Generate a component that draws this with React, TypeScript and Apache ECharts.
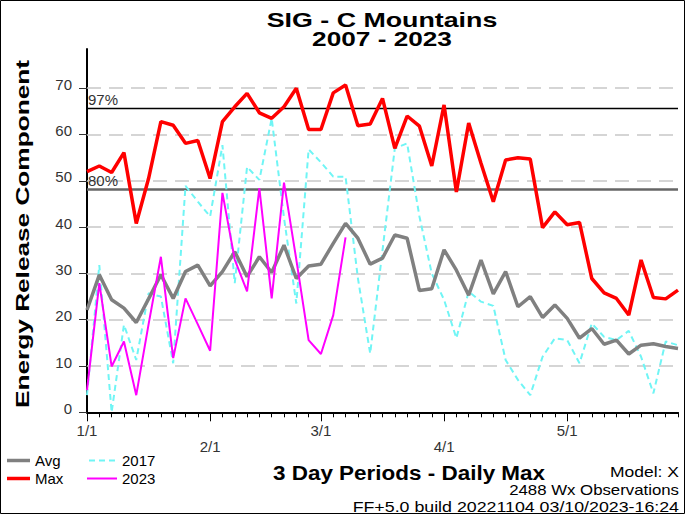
import React, { useEffect, useRef } from "react";
import * as echarts from "echarts";

const FONT = "Arial, 'Liberation Sans', sans-serif";

// 3-day period index 0..48 (1/1 .. end of May)
const monthIdx = [0, 10, 19, 29, 39];
const monthLabels = ["1/1", "2/1", "3/1", "4/1", "5/1"];
const yTicks = [0, 10, 20, 30, 40, 50, 60, 70];

const avgValues = [
  22.1, 29.7, 24.3, 22.5, 19.4, 24.5, 29.7, 24.6, 30.4, 31.8,
  27.3, 30.4, 34.7, 29.3, 33.6, 30.2, 36.1, 28.9, 31.6, 32.0,
  36.5, 40.8, 37.6, 32.0, 33.3, 38.3, 37.6, 26.3, 26.7, 35.1,
  30.7, 25.3, 32.9, 25.6, 30.4, 22.8, 25.0, 20.5, 23.2, 20.3,
  16.0, 18.1, 14.7, 15.6, 12.6, 14.5, 14.8, 14.2, 13.8,
];
const maxValues = [
  52.0, 53.2, 51.8, 56.1, 40.8, 50.5, 62.8, 62.0, 58.1, 58.7,
  50.5, 62.8, 66.0, 68.9, 64.7, 63.5, 66.0, 70.0, 61.1, 61.1,
  69.0, 70.7, 61.9, 62.3, 67.8, 57.0, 64.0, 61.8, 53.2, 66.4,
  47.6, 62.5, 53.8, 45.5, 54.5, 55.0, 54.7, 39.9, 43.3, 40.5,
  41.0, 28.9, 25.8, 24.6, 21.0, 32.9, 24.8, 24.5, 26.4,
];
const values2017 = [
  3.7, 31.8, 0, 18.9, 11.3, 25.7, 25.0, 10.6, 48.9, 45.5,
  42.3, 57.7, 27.9, 53.0, 50.2, 63.5, 42.0, 23.5, 56.8, 54.0,
  50.9, 50.9, 29.0, 12.7, 35.0, 57.0, 58.1, 42.3, 30.0, 24.3,
  16.0, 26.1, 23.9, 23.0, 11.3, 7.0, 3.7, 12.0, 16.0, 15.6,
  10.6, 19.2, 16.3, 15.6, 17.6, 12.0, 4.1, 15.3, 14.5,
];
const values2023 = [
  4.8, 27.9, 9.9, 15.3, 3.7, 19.0, 33.6, 11.7, 24.6, 19.0,
  13.3, 47.4, 33.0, 26.1, 48.4, 24.6, 49.6, 33.0, 15.6, 12.6,
  21.0, 37.8,
];
const percentiles = [
  { name: "97%", value: 65.7 },
  { name: "80%", value: 48.2 },
];

const toPairs = (arr: number[]) => arr.map((v, i) => [i, v]);

const DASH_ICON = "path://M0 0H6V2H0Z M10 0H16V2H10Z M20 0H26V2H20Z";

export default function App() {
  const ref = useRef<HTMLDivElement>(null);
  useEffect(() => {
    const chart = echarts.init(ref.current!, null, { renderer: "svg" });
    const textBase = { fill: "#000", align: "center", verticalAlign: "middle", textAlign: "center", textVerticalAlign: "middle" };
    const textRight = { fill: "#000", align: "right", verticalAlign: "middle", textAlign: "right", textVerticalAlign: "middle" };
    const option: any = {
      animation: false,
      backgroundColor: "#fff",
      grid: { left: 87, right: 7, top: 48.9, bottom: 103.7 },
      xAxis: [
        {
          type: "value",
          min: 0,
          max: 48,
          interval: 1,
          axisLine: { show: true, onZero: false, lineStyle: { color: "#000", width: 2 } },
          axisTick: { show: true, length: 5, lineStyle: { color: "#000", width: 1 } },
          axisLabel: { show: false },
          splitLine: { show: false },
        },
        {
          type: "value",
          min: 0,
          max: 48,
          position: "bottom",
          axisLine: { show: false },
          axisTick: { show: true, customValues: monthIdx, length: 9, lineStyle: { color: "#000", width: 1 } },
          axisLabel: {
            show: true,
            customValues: monthIdx,
            margin: 10,
            fontSize: 15,
            lineHeight: 16,
            fontFamily: FONT,
            color: "#333",
            formatter: (v: number) => {
              const k = monthIdx.indexOf(Math.round(v));
              if (k < 0) return "";
              return k % 2 === 1 ? "\n" + monthLabels[k] : monthLabels[k];
            },
          },
          splitLine: { show: false },
        },
      ],
      yAxis: {
        type: "value",
        min: 0,
        max: 78.5,
        interval: 10,
        axisLine: { show: true, onZero: false, lineStyle: { color: "#000", width: 2 } },
        axisTick: { show: true, customValues: yTicks, length: 8, lineStyle: { color: "#333", width: 1 } },
        axisLabel: {
          customValues: yTicks,
          margin: 15,
          fontSize: 15,
          fontFamily: FONT,
          color: "#333",
          verticalAlign: "bottom",
          lineHeight: 8,
        },
        splitLine: { show: false },
      },
      legend: [
        {
          data: [
            { name: "Avg", icon: "rect" },
            { name: "Max", icon: "rect" },
          ],
          orient: "vertical",
          left: 7,
          top: 453,
          padding: 0,
          itemWidth: 23,
          itemHeight: 3.5,
          itemGap: 3,
          selectedMode: false,
          textStyle: { fontSize: 15, color: "#000", fontFamily: FONT },
        },
        {
          data: [
            { name: "2017", icon: DASH_ICON },
            { name: "2023", icon: "rect" },
          ],
          orient: "vertical",
          left: 87,
          top: 453,
          padding: 0,
          itemWidth: 30,
          itemHeight: 2,
          itemGap: 3,
          selectedMode: false,
          textStyle: { fontSize: 15, color: "#000", fontFamily: FONT },
        },
      ],
      series: [
        {
          name: "2017",
          type: "line",
          data: toPairs(values2017),
          symbol: "none",
          z: 2,
          itemStyle: { color: "#70f5f5" },
          lineStyle: { color: "#70f5f5", width: 2, type: [6, 4] },
          markLine: {
            silent: true,
            z: 1,
            symbol: ["none", "none"],
            emphasis: { disabled: true },
            label: { show: false },
            lineStyle: { color: "#c8c8c8", width: 1.5, type: [14, 8] },
            data: yTicks.filter((v) => v > 0).map((v) => ({ yAxis: v })),
          },
        },
        {
          name: "Avg",
          type: "line",
          data: toPairs(avgValues),
          symbol: "none",
          z: 3,
          itemStyle: { color: "#808080" },
          lineStyle: { color: "#808080", width: 3.5 },
          markLine: {
            silent: true,
            z: 1,
            symbol: ["none", "none"],
            emphasis: { disabled: true },
            data: percentiles.map((p, k) => ({
              yAxis: p.value,
              name: p.name,
              lineStyle: k === 0 ? { color: "#000", width: 1.3, type: "solid" } : { color: "#666", width: 2.5, type: "solid" },
              label: {
                show: true,
                position: "insideStartTop",
                formatter: "{b}",
                color: "#333",
                fontSize: 15,
                fontFamily: FONT,
                distance: [1, 1],
              },
            })),
          },
        },
        {
          name: "2023",
          type: "line",
          data: toPairs(values2023),
          symbol: "none",
          z: 4,
          itemStyle: { color: "#ff00ff" },
          lineStyle: { color: "#ff00ff", width: 2 },
        },
        {
          name: "Max",
          type: "line",
          data: toPairs(maxValues),
          symbol: "none",
          z: 5,
          itemStyle: { color: "#ff0000" },
          lineStyle: { color: "#ff0000", width: 3.5 },
        },
      ],
      graphic: [
        {
          type: "rect",
          shape: { x: 0.5, y: 0.5, width: 684, height: 513 },
          style: { fill: "none", stroke: "#000", lineWidth: 1 },
          silent: true,
        },
        {
          type: "text",
          x: 382,
          y: 20.5,
          scaleX: 1.34,
          style: { ...textBase, text: "SIG - C Mountains", font: `bold 20px ${FONT}` },
        },
        {
          type: "text",
          x: 382,
          y: 39.5,
          scaleX: 1.31,
          style: { ...textBase, text: "2007 - 2023", font: `bold 20px ${FONT}` },
        },
        {
          type: "text",
          x: 22,
          y: 234,
          rotation: Math.PI / 2,
          scaleX: 1.38,
          style: { ...textBase, text: "Energy Release Component", font: `bold 19px ${FONT}` },
        },
        {
          type: "text",
          x: 409,
          y: 472.5,
          scaleX: 1.07,
          style: { ...textBase, text: "3 Day Periods - Daily Max", font: `bold 21px ${FONT}` },
        },
        {
          type: "text",
          x: 679,
          y: 472,
          scaleX: 1.25,
          style: { ...textRight, text: "Model: X", font: `14px ${FONT}` },
        },
        {
          type: "text",
          x: 679,
          y: 490,
          scaleX: 1.2,
          style: { ...textRight, text: "2488 Wx Observations", font: `14px ${FONT}` },
        },
        {
          type: "text",
          x: 679,
          y: 507,
          scaleX: 1.27,
          style: { ...textRight, text: "FF+5.0 build 20221104 03/10/2023-16:24", font: `14px ${FONT}` },
        },
      ],
    };
    chart.setOption(option);
    return () => chart.dispose();
  }, []);
  return (
    <div
      ref={ref}
      style={{ position: "fixed", left: 0, top: 0, width: 685, height: 516, background: "#fff" }}
    />
  );
}
